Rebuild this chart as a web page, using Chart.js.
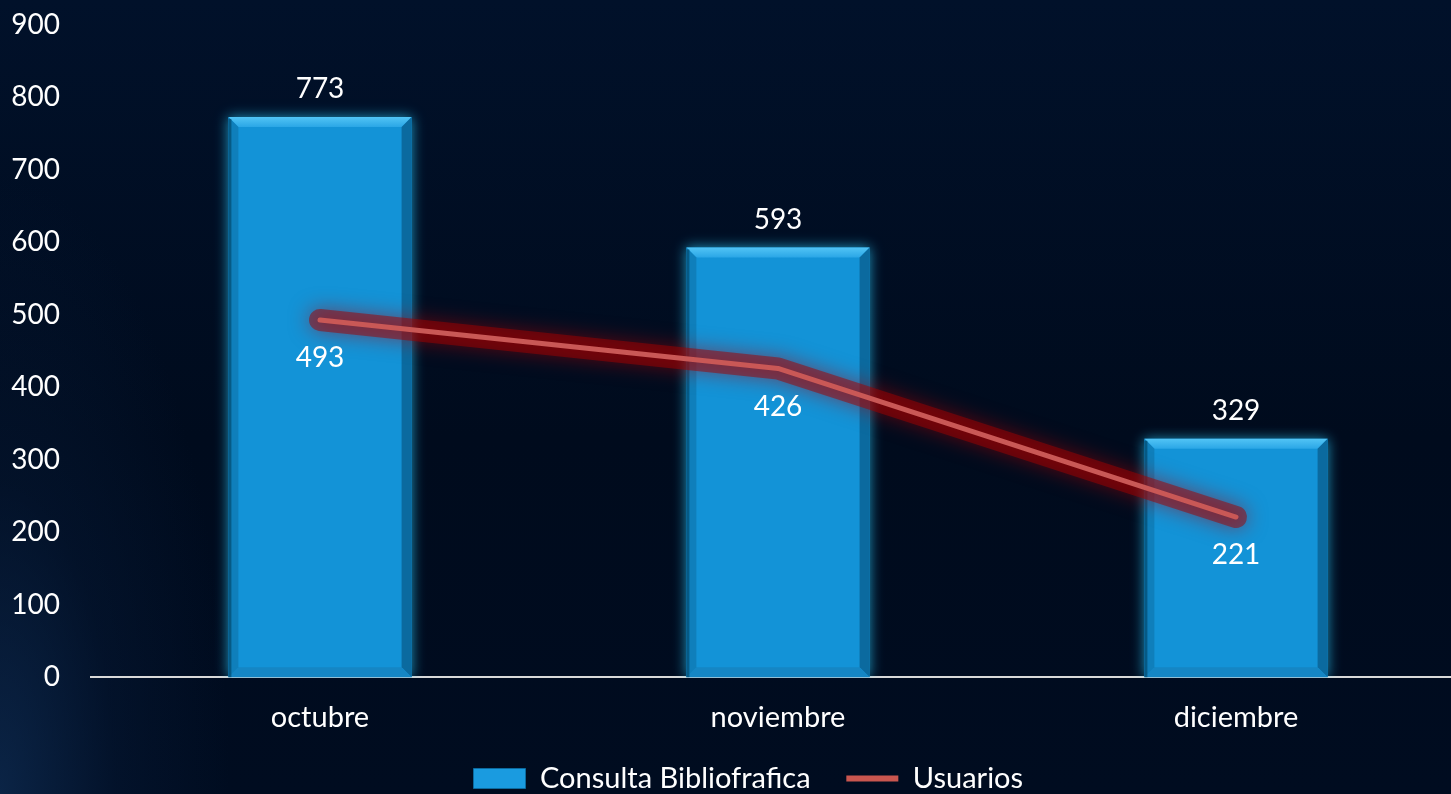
<!DOCTYPE html>
<html lang="es">
<head>
	<meta charset="UTF-8">
	<title>Consultas</title>
	<style>
		html, body {
			margin: 0;
			padding: 0;
			width: 1451px;
			height: 794px;
			overflow: hidden;
			background-color: #000c1e;
			background-image:
				radial-gradient(ellipse 230px 620px at 0% 100%, rgba(18,52,95,0.6) 0%, rgba(8,30,62,0.35) 50%, rgba(0,12,30,0) 100%),
				linear-gradient(180deg, #01112a 0%, #000b1d 55%, #000c20 100%);
		}
		#wrap {
			width: 1465px;
			height: 794px;
		}
	</style>
</head>
<body>
	<div id="wrap">
		<canvas id="grafico"></canvas>
	</div>

	<script src="https://cdn.jsdelivr.net/npm/chart.js"></script>
	<script>
		const meses = ['octubre', 'noviembre', 'diciembre'];
		const consultas = [773, 593, 329];
		const usuarios = [493, 426, 221];
		const ticksY = [0, 100, 200, 300, 400, 500, 600, 700, 800, 900];

		const fuente = 'Lato, "Open Sans", sans-serif';

		// brillo de las barras y bisel
		const efectos = {
			id: 'efectos',
			beforeDatasetDraw(chart, args) {
				const ctx = chart.ctx;
				ctx.save();
				if (args.meta.type === 'bar') {
					ctx.shadowColor = 'rgba(40,190,235,0.75)';
					ctx.shadowBlur = 12;
				} else if (args.index === 2) {
					ctx.shadowColor = 'rgba(180,0,0,1)';
					ctx.shadowBlur = 20;
				}
			},
			afterDatasetDraw(chart, args) {
				const ctx = chart.ctx;
				ctx.restore();
				if (args.meta.type !== 'bar') return;
				args.meta.data.forEach(bar => {
					const l = bar.x - bar.width / 2, r = bar.x + bar.width / 2;
					const t = bar.y, b = bar.base, s = 10;
					const lado = (pts, color) => {
						ctx.beginPath();
						ctx.moveTo(pts[0][0], pts[0][1]);
						for (let i = 1; i < pts.length; i++) ctx.lineTo(pts[i][0], pts[i][1]);
						ctx.closePath();
						ctx.fillStyle = color;
						ctx.fill();
					};
					ctx.save();
					const gt = ctx.createLinearGradient(0, t, 0, t + s);
					gt.addColorStop(0, '#52c4f5');
					gt.addColorStop(1, '#2aa6e6');
					lado([[l, t], [r, t], [r - s, t + s], [l + s, t + s]], gt);
					lado([[r, t], [r, b], [r - s, b - s], [r - s, t + s]], '#0b6a9f');
					lado([[l, b], [r, b], [r - s, b - s], [l + s, b - s]], '#1586c4');
					lado([[l, t], [l + s, t + s], [l + s, b - s], [l, b]], '#0f7fbb');
					ctx.fillStyle = 'rgba(0,60,90,0.55)';
					ctx.fillRect(l, t + 2, 3, b - t - 2);
					ctx.restore();
				});
			},
			afterDatasetsDraw(chart) {
				const ctx = chart.ctx;
				ctx.save();
				ctx.font = '28px ' + fuente;
				ctx.fillStyle = '#ffffff';
				ctx.textAlign = 'center';
				ctx.textBaseline = 'middle';
				chart.getDatasetMeta(0).data.forEach((bar, i) => {
					ctx.fillText(String(consultas[i]), bar.x, bar.y - 28);
				});
				chart.getDatasetMeta(1).data.forEach((pt, i) => {
					ctx.fillText(String(usuarios[i]), pt.x, pt.y + 38);
				});
				ctx.restore();
			}
		};

		new Chart(document.getElementById('grafico'), {
			data: {
				labels: meses,
				datasets: [
					{
						type: 'bar',
						label: 'Consulta Bibliofrafica',
						data: consultas,
						backgroundColor: '#1393d7',
						borderWidth: 0,
						barPercentage: 0.8,
						categoryPercentage: 0.5,
						order: 2
					},
					{
						type: 'line',
						label: 'Usuarios',
						data: usuarios,
						borderColor: '#c95856',
						backgroundColor: '#c95856',
						borderWidth: 5,
						borderCapStyle: 'round',
						borderJoinStyle: 'round',
						pointRadius: 0,
						tension: 0,
						fill: false,
						order: 0
					},
					{
						type: 'line',
						label: 'brillo',
						data: usuarios,
						borderColor: 'rgba(160,0,0,0.5)',
						borderWidth: 22,
						borderCapStyle: 'round',
						borderJoinStyle: 'round',
						pointRadius: 0,
						tension: 0,
						fill: false,
						order: 1
					}
				]
			},
			options: {
				responsive: true,
				maintainAspectRatio: false,
				animation: false,
				layout: { autoPadding: false, padding: { left: 10, top: 25, right: 0, bottom: -9 } },
				scales: {
					x: {
						offset: true,
						grid: { display: false, drawTicks: false },
						border: { display: true, color: '#d9d9d9', width: 2 },
						ticks: { color: '#ffffff', font: { family: fuente, size: 29 }, padding: 23 }
					},
					y: {
						min: 0,
						max: 900,
						afterBuildTicks: axis => { axis.ticks = ticksY.map(v => ({ value: v })); },
						afterFit: axis => {
							axis.width = 81;
							axis.paddingTop = 0;
							axis.paddingBottom = 0;
						},
						grid: { display: false, drawTicks: false },
						border: { display: false },
						ticks: { color: '#ffffff', font: { family: fuente, size: 28 }, padding: 31 }
					}
				},
				plugins: {
					tooltip: { enabled: false },
					legend: {
						position: 'bottom',
						fullSize: false,
						labels: {
							color: '#ffffff',
							font: { family: fuente, size: 29 },
							usePointStyle: true,
							pointStyleWidth: 52,
							boxHeight: 20,
							padding: 6,
							filter: item => item.datasetIndex !== 2,
							sort: (a, b) => a.datasetIndex - b.datasetIndex,
							generateLabels: chart => {
								const items = Chart.defaults.plugins.legend.labels.generateLabels(chart);
								items.forEach(it => {
									if (it.datasetIndex === 0) {
										it.text = it.text + '    ';
										it.pointStyle = 'rect';
										it.fillStyle = '#1a9be0';
										it.strokeStyle = '#0b6a9f';
										it.lineWidth = 1;
									} else {
										it.text = it.text + '        ';
										it.pointStyle = 'line';
										it.strokeStyle = '#c9564f';
										it.lineWidth = 6;
									}
								});
								return items;
							}
						}
					}
				}
			},
			plugins: [efectos]
		});
	</script>
</body>
</html>
